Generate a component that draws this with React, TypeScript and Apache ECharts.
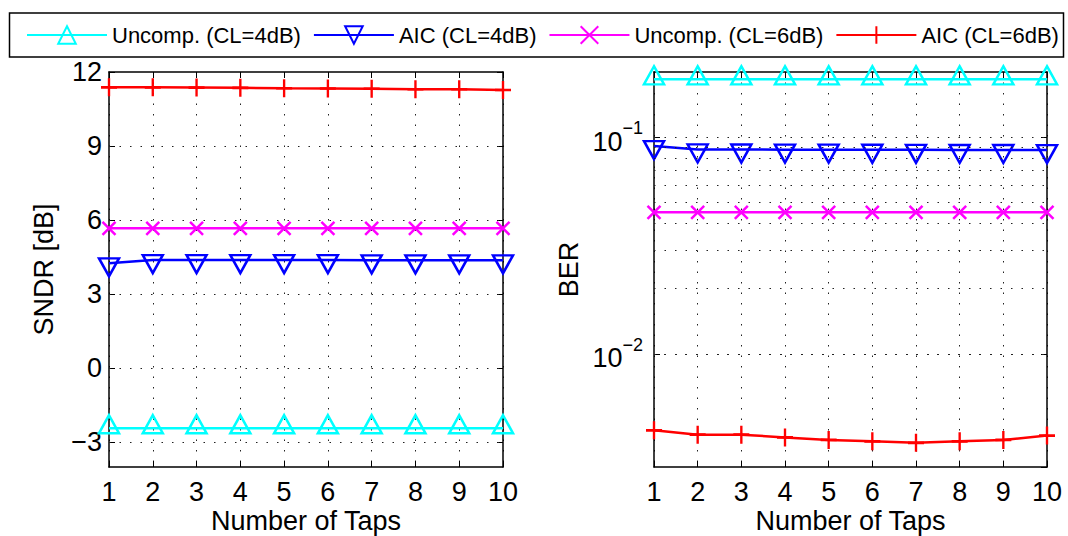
import React, { useEffect, useRef } from 'react';
import * as echarts from 'echarts';

// Number of equalizer taps (x axis of both panels)
const taps = [1, 2, 3, 4, 5, 6, 7, 8, 9, 10];

const seriesNames = ['Uncomp. (CL=4dB)', 'AIC (CL=4dB)', 'Uncomp. (CL=6dB)', 'AIC (CL=6dB)'];

// SNDR in dB (left panel)
const sndrUncomp4 = [-2.43, -2.43, -2.43, -2.43, -2.43, -2.43, -2.43, -2.43, -2.43, -2.43];
const sndrAic4 = [4.25, 4.38, 4.38, 4.38, 4.38, 4.38, 4.37, 4.37, 4.37, 4.37];
const sndrUncomp6 = [5.67, 5.67, 5.67, 5.67, 5.67, 5.67, 5.67, 5.67, 5.67, 5.67];
const sndrAic6 = [11.38, 11.38, 11.37, 11.36, 11.34, 11.33, 11.32, 11.3, 11.3, 11.27];

// Bit error rate (right panel, log scale)
const berUncomp4 = [0.185, 0.185, 0.185, 0.185, 0.185, 0.185, 0.185, 0.185, 0.185, 0.185];
const berAic4 = [0.091, 0.0878, 0.0877, 0.0876, 0.0876, 0.0875, 0.0874, 0.0873, 0.0873, 0.0872];
const berUncomp6 = [0.045, 0.045, 0.045, 0.045, 0.045, 0.045, 0.045, 0.045, 0.045, 0.045];
const berAic6 = [0.00443, 0.00423, 0.00423, 0.00411, 0.004, 0.00394, 0.00388, 0.00394, 0.004, 0.00419];

// Axis ticks and grid levels
const sndrTicks = [-3, 0, 3, 6, 9, 12];
const sndrGridLevels = [-3, 0, 3, 6, 9];
const berGridLevels = [
  0.004, 0.005, 0.006, 0.007, 0.008, 0.009, 0.01,
  0.02, 0.03, 0.04, 0.05, 0.06, 0.07, 0.08, 0.09, 0.1,
];

const FONT = 'Liberation Sans, Arial, Helvetica, sans-serif';
const TICK_SIZE = 27;
const NAME_SIZE = 27;

const SYM_UP = 'path://M5,0L10,9L0,9Z';
const SYM_DOWN = 'path://M0,0L10,0L5,9Z';
const SYM_X = 'path://M0,0L10,10M10,0L0,10';
const SYM_PLUS = 'path://M5,0L5,10M0,5L10,5';

const looks = [
  { color: '#00ffff', symbol: SYM_UP, size: [20, 18], offset: [0, -4] },
  { color: '#0000ff', symbol: SYM_DOWN, size: [20, 18], offset: [0, 4] },
  { color: '#ff00ff', symbol: SYM_X, size: [13, 13], offset: [0, 0] },
  { color: '#ff0000', symbol: SYM_PLUS, size: [16, 18], offset: [0, 0] },
];

const dotted = { color: '#222', width: 1, type: [1.5, 9] as number[] };

function lineSeries(name: string, k: number, values: number[], g: number) {
  const lk = looks[k];
  return {
    type: 'line',
    name,
    xAxisIndex: g * 2,
    yAxisIndex: g * 2,
    data: taps.map((t, i) => [t, values[i]]),
    symbol: lk.symbol,
    symbolSize: lk.size,
    symbolOffset: lk.offset,
    showAllSymbol: true,
    lineStyle: { color: lk.color, width: 2.5 },
    itemStyle: { color: 'rgba(0,0,0,0)', borderColor: lk.color, borderWidth: 2.5 },
    emphasis: { disabled: true },
    z: 3,
  };
}

function gridLines(g: number, levels: number[]) {
  return {
    type: 'line',
    name: 'grid' + g,
    xAxisIndex: g * 2,
    yAxisIndex: g * 2,
    data: [],
    silent: true,
    z: 1,
    markLine: {
      silent: true,
      symbol: ['none', 'none'],
      label: { show: false },
      lineStyle: dotted,
      emphasis: { disabled: true },
      data: levels.map((v) => ({ yAxis: v })),
    },
  };
}

const axisLineStyle = { show: true, onZero: false, lineStyle: { color: '#000', width: 1.5 } };

function xAxes(g: number) {
  const base = {
    type: 'value',
    gridIndex: g,
    min: 1,
    max: 10,
    interval: 1,
    axisLine: axisLineStyle,
    axisTick: { show: true, inside: true, length: 6, lineStyle: { color: '#000', width: 1 } },
  };
  return [
    {
      ...base,
      position: 'bottom',
      axisLabel: { color: '#000', fontFamily: FONT, fontSize: TICK_SIZE, lineHeight: 27, margin: 11 },
      splitLine: { show: true, lineStyle: dotted },
      name: 'Number of Taps',
      nameLocation: 'middle',
      nameGap: 40,
      nameMoveOverlap: false,
      nameTextStyle: { color: '#000', fontFamily: FONT, fontSize: NAME_SIZE, lineHeight: 27 },
    },
    { ...base, position: 'top', axisLabel: { show: false }, splitLine: { show: false } },
  ];
}

const minus = (v: number) => (v < 0 ? '\u2212' + Math.abs(v) : String(v));

const sndrAxisBase = {
  type: 'value',
  gridIndex: 0,
  min: -4,
  max: 12,
  axisLine: axisLineStyle,
  axisTick: { show: true, inside: true, length: 6, customValues: sndrTicks, lineStyle: { color: '#000', width: 1 } },
  splitLine: { show: false },
};

const berAxisBase = {
  type: 'log',
  logBase: 10,
  gridIndex: 1,
  min: 0.003,
  max: 0.2,
  axisLine: axisLineStyle,
  axisTick: { show: true, inside: true, length: 6, lineStyle: { color: '#000', width: 1 } },
  splitLine: { show: false },
  minorTick: { show: false },
};

export default function App() {
  const ref = useRef<HTMLDivElement>(null);

  useEffect(() => {
    if (!ref.current) return;
    const chart = echarts.init(ref.current, undefined, { renderer: 'svg' });
    chart.setOption({
      animation: false,
      backgroundColor: '#fff',
      textStyle: { fontFamily: FONT },
      graphic: [
        {
          type: 'rect',
          z: 0,
          shape: { x: 9.5, y: 13, width: 1054, height: 44 },
          style: { fill: 'none', stroke: '#000', lineWidth: 1.5 },
          silent: true,
        },
      ],
      legend: {
        data: seriesNames,
        left: 26,
        top: 24,
        padding: 0,
        itemGap: 12,
        itemWidth: 80,
        itemHeight: 22,
        selectedMode: false,
        textStyle: { color: '#000', fontFamily: FONT, fontSize: 22 },
      },
      grid: [
        { left: 109, top: 72, width: 394, height: 395, containLabel: false, outerBoundsMode: 'none' },
        { left: 654, top: 72, width: 393, height: 395, containLabel: false, outerBoundsMode: 'none' },
      ],
      xAxis: [...xAxes(0), ...xAxes(1)],
      yAxis: [
        {
          ...sndrAxisBase,
          position: 'left',
          axisLabel: {
            color: '#000',
            fontFamily: FONT,
            fontSize: TICK_SIZE,
            margin: 7,
            customValues: sndrTicks,
            formatter: (v: number) => minus(v),
          },
          name: 'SNDR [dB]',
          nameLocation: 'middle',
          nameGap: 52,
          nameMoveOverlap: false,
          nameTextStyle: { color: '#000', fontFamily: FONT, fontSize: NAME_SIZE },
        },
        { ...sndrAxisBase, position: 'right', axisLabel: { show: false } },
        {
          ...berAxisBase,
          position: 'left',
          axisLabel: {
            color: '#000',
            fontFamily: FONT,
            margin: 11,
            showMinLabel: false,
            showMaxLabel: false,
            formatter: (v: number) => {
              const e = Math.round(Math.log10(v));
              return '{b|10}{s|\u2212' + Math.abs(e) + '}';
            },
            rich: {
              b: { fontFamily: FONT, fontSize: TICK_SIZE, color: '#000', lineHeight: 36, verticalAlign: 'bottom' },
              s: { fontFamily: FONT, fontSize: 18, color: '#000', lineHeight: 36, verticalAlign: 'top' },
            },
          },
          name: 'BER',
          nameLocation: 'middle',
          nameGap: 72,
          nameMoveOverlap: false,
          nameTextStyle: { color: '#000', fontFamily: FONT, fontSize: NAME_SIZE },
        },
        { ...berAxisBase, position: 'right', axisLabel: { show: false } },
      ],
      series: [
        gridLines(0, sndrGridLevels),
        gridLines(1, berGridLevels),
        lineSeries(seriesNames[0], 0, sndrUncomp4, 0),
        lineSeries(seriesNames[1], 1, sndrAic4, 0),
        lineSeries(seriesNames[2], 2, sndrUncomp6, 0),
        lineSeries(seriesNames[3], 3, sndrAic6, 0),
        lineSeries(seriesNames[0], 0, berUncomp4, 1),
        lineSeries(seriesNames[1], 1, berAic4, 1),
        lineSeries(seriesNames[2], 2, berUncomp6, 1),
        lineSeries(seriesNames[3], 3, berAic6, 1),
      ],
    });
    return () => chart.dispose();
  }, []);

  return (
    <div
      ref={ref}
      style={{ position: 'fixed', left: 0, top: 0, width: 1068, height: 536, background: '#fff' }}
    />
  );
}
